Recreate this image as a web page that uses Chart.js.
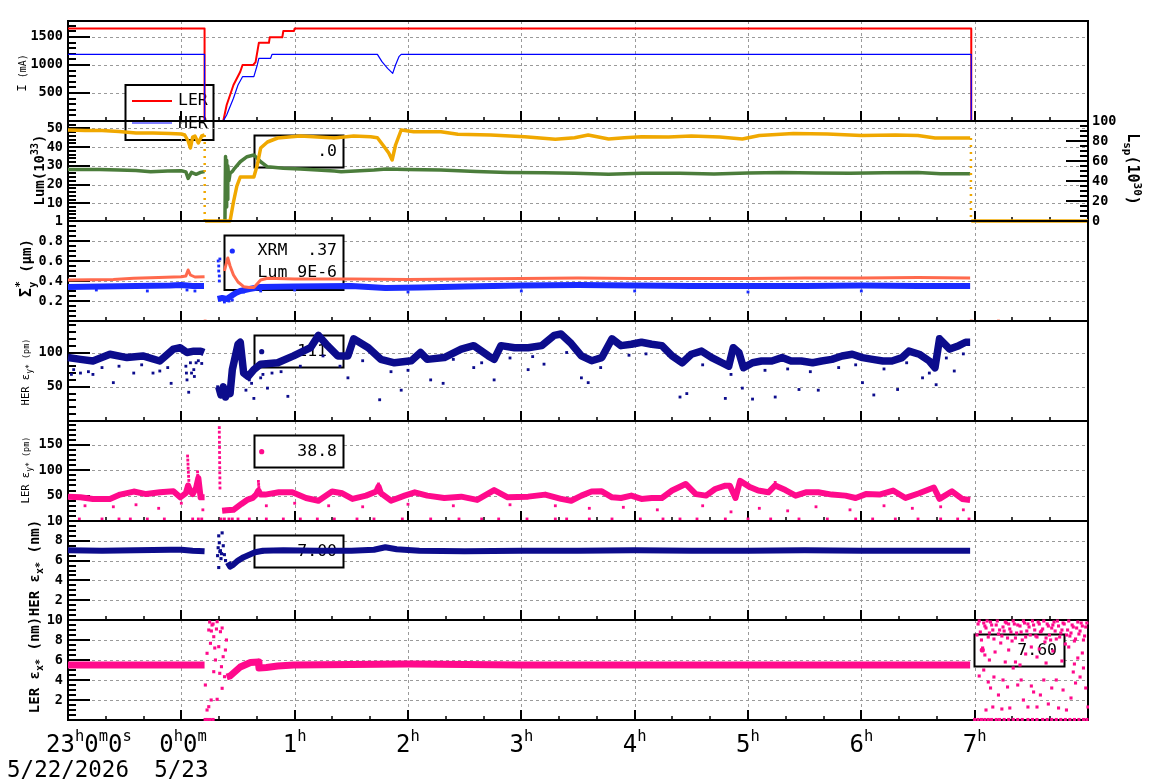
<!DOCTYPE html>
<html><head><meta charset="utf-8">
<script src="https://cdn.jsdelivr.net/npm/chart.js@4.4.0/dist/chart.umd.min.js"></script>
<style>
html,body{margin:0;padding:0;background:#fff;}
#wrap{position:relative;width:1160px;height:782px;overflow:hidden;background:#fff;}
#wrap canvas{position:absolute;left:0;top:0;}
</style></head><body><div id="wrap">
<canvas id="p1" width="1160" height="782"></canvas>
<canvas id="p2" width="1160" height="782"></canvas>
<canvas id="p3" width="1160" height="782"></canvas>
<canvas id="p4" width="1160" height="782"></canvas>
<canvas id="p5" width="1160" height="782"></canvas>
<canvas id="p6" width="1160" height="782"></canvas>
<canvas id="p7" width="1160" height="782"></canvas>
</div>
<script>
// ---------------- DATA (time in hours relative to 0h 5/23) ----------------
const xTickVals = [-1, 0, 1, 2, 3, 4, 5, 6, 7];
const xTickText = ['23h0m0s', '0h0m', '1h', '2h', '3h', '4h', '5h', '6h', '7h'];
const xTickDate = ['5/22/2026', '5/23', '', '', '', '', '', '', ''];

// Panel 1: beam current I (mA)
const lerCurT = [-1, 0.205, 0.205, 0.37, 0.40, 0.46, 0.52, 0.54, 0.634, 0.655, 0.684, 0.773, 0.78, 0.891, 0.90, 0.994, 1.0, 6.97, 6.97, 7.80];
const lerCurV = [1650, 1650, 0, 0, 286, 643, 880, 1000, 1000, 1050, 1395, 1395, 1494, 1494, 1607, 1607, 1650, 1650, 0, 0];
const herCurT = [-1, 0.205, 0.205, 0.37, 0.40, 0.46, 0.50, 0.54, 0.64, 0.67, 0.684, 0.788, 0.80, 1.73, 1.77, 1.82, 1.865, 1.89, 1.92, 1.94, 6.97, 6.97, 7.80];
const herCurV = [1190, 1190, 0, 0, 107, 405, 643, 791, 791, 1000, 1119, 1119, 1190, 1190, 1059, 940, 851, 1000, 1148, 1190, 1190, 0, 0];

// Panel 2: Lum (1e33) green, Lsp (1e30) yellow
const lumT = [-1, -0.85, -0.72, -0.55, -0.4, -0.27, -0.12, 0, 0.04, 0.06, 0.09, 0.13, 0.17, 0.205, 0.3, 0.385, 0.39, 0.395, 0.40, 0.405, 0.41, 0.42, 0.43, 0.45, 0.47, 0.52, 0.58, 0.64, 0.70, 0.76, 0.90, 1.05, 1.35, 1.41, 1.70, 1.81, 1.99, 2.29, 2.6, 2.88, 3.2, 3.47, 3.77, 4.06, 4.4, 4.7, 5.0, 5.3, 5.6, 5.9, 6.2, 6.5, 6.7, 6.96];
const lumV = [28.1, 28.0, 28.1, 27.8, 27.5, 26.9, 27.2, 27.4, 26.8, 23.3, 26.5, 25.5, 26.5, 26.9, null, 1, 35, 8, 33, 12, 30, 22, 26, 27, 28.7, 32.2, 34.9, 35.8, 32.2, 29.5, 28.7, 28.3, 27.2, 26.9, 27.8, 28.3, 28.1, 27.8, 27.0, 26.5, 26.3, 26.0, 25.5, 26.0, 26.0, 25.7, 26.2, 26.5, 26.2, 26.0, 26.3, 26.5, 25.8, 25.8];
const lspT = [-1, -0.85, -0.7, -0.55, -0.4, -0.25, -0.1, 0, 0.03, 0.06, 0.08, 0.10, 0.12, 0.15, 0.18, 0.205, 0.207, 0.21, 0.43, 0.46, 0.49, 0.52, 0.64, 0.67, 0.70, 0.76, 0.85, 1.05, 1.35, 1.52, 1.67, 1.73, 1.79, 1.83, 1.86, 1.89, 1.94, 2.05, 2.29, 2.44, 2.73, 3.03, 3.30, 3.47, 3.59, 3.77, 3.91, 4.06, 4.3, 4.5, 4.75, 4.95, 5.1, 5.4, 5.7, 6.0, 6.3, 6.5, 6.65, 6.96, 6.965, 6.97, 8.0];
const lspV = [91, 90.5, 90.5, 89.5, 88, 88, 87.5, 87, 86, 80, 73, 84, 85, 78, 85, 86, null, 0, 0, 19, 35, 44, 44, 56, 73, 79, 83, 85, 83, 85, 84.3, 83.3, 74.3, 68, 61, 76, 91, 89.3, 89.3, 86.7, 86, 84.3, 81.7, 83.3, 86, 82, 83.3, 84.3, 84, 85, 84, 82, 85.5, 87.5, 87, 85.5, 86, 85.5, 83, 83, null, 0, 0];
const lspDropT = [0.206, 0.206, 3, 6.967, 6.967];
const lspDropV = [86, 0, null, 83, 0];

// Panel 3: Sigma_y* (um)
const xrmT = [-1, -0.7, -0.4, -0.1, 0, 0.1, 0.2, 0.25, 0.32, 0.36, 0.40, 0.44, 0.48, 0.52, 0.6, 0.7, 1.0, 1.5, 1.8, 2.1, 2.5, 3.0, 3.5, 4.0, 4.5, 5.0, 5.5, 6.0, 6.5, 6.96];
const xrmV = [0.34, 0.345, 0.35, 0.355, 0.36, 0.35, 0.35, null, 0.22, 0.23, 0.22, 0.25, 0.28, 0.30, 0.32, 0.34, 0.345, 0.35, 0.33, 0.335, 0.345, 0.355, 0.36, 0.355, 0.35, 0.35, 0.35, 0.355, 0.35, 0.35];
const xrmDotT = [0.325, 0.33, 0.33, 0.335, 0.335, 0.34, -0.75, -0.3, 0.05, 0.12, 0.55, 0.7, 1.0, 2.0, 3.0, 4.0, 5.0, 6.0, 0.38, 0.42, 0.45];
const xrmDotV = [0.6, 0.55, 0.5, 0.45, 0.4, 0.62, 0.31, 0.30, 0.31, 0.30, 0.29, 0.30, 0.31, 0.29, 0.30, 0.30, 0.29, 0.30, 0.19, 0.2, 0.21];
const lumSigT = [-1, -0.6, -0.42, -0.2, 0, 0.04, 0.06, 0.08, 0.12, 0.205, 0.3, 0.38, 0.40, 0.41, 0.43, 0.46, 0.50, 0.55, 0.60, 0.64, 0.70, 0.76, 1.0, 1.5, 2.0, 2.5, 3.0, 3.5, 4.0, 4.5, 5.0, 5.5, 6.0, 6.5, 6.96];
const lumSigV = [0.41, 0.415, 0.427, 0.435, 0.443, 0.45, 0.51, 0.46, 0.44, 0.443, null, 0.50, 0.59, 0.63, 0.55, 0.46, 0.39, 0.343, 0.335, 0.335, 0.41, 0.427, 0.42, 0.42, 0.415, 0.42, 0.425, 0.43, 0.425, 0.425, 0.425, 0.43, 0.43, 0.435, 0.43];
const lumSigZeroT = [0.21, 6.97, 7.21];
const lumSigZeroV = [0, 0, 0];

// Panel 4: HER eps_y* (pm)
const herEyT = [-1.0, -0.89, -0.78, -0.63, -0.48, -0.34, -0.19, -0.07, -0.01, 0.05, 0.11, 0.17, 0.2, 0.26, 0.33, 0.35, 0.37, 0.39, 0.41, 0.43, 0.45, 0.50, 0.52, 0.55, 0.59, 0.64, 0.70, 0.85, 0.99, 1.14, 1.21, 1.29, 1.38, 1.47, 1.52, 1.65, 1.76, 1.88, 2.03, 2.11, 2.17, 2.32, 2.47, 2.58, 2.71, 2.76, 2.82, 2.94, 3.06, 3.18, 3.29, 3.35, 3.44, 3.53, 3.62, 3.71, 3.80, 3.88, 3.97, 4.06, 4.15, 4.24, 4.33, 4.42, 4.50, 4.59, 4.68, 4.77, 4.83, 4.87, 4.92, 4.96, 5.04, 5.12, 5.21, 5.30, 5.38, 5.47, 5.57, 5.65, 5.74, 5.83, 5.92, 6.01, 6.10, 6.19, 6.27, 6.36, 6.42, 6.51, 6.60, 6.65, 6.69, 6.78, 6.86, 6.92, 6.96];
const herEyV = [92.6, 90, 87.6, 97.5, 92.6, 95, 87.6, 105, 107, 100, 102, 102, 100, null, 50, 38, 50, 35, 45, 40, 75, 112, 115, 70, 65, 75, 83, 85, 95, 107, 125, 110, 95, 95, 120, 107, 90, 85, 88, 100, 90, 92.6, 105, 110, 95, 90, 110, 107, 107, 110, 125, 127, 113, 95, 88, 92.6, 120, 110, 112, 115, 112, 110, 95, 85, 97.5, 102, 92.6, 85, 80, 107, 100, 77.7, 85, 87.6, 87.6, 92.6, 87.6, 87.6, 85, 87.6, 90, 95, 97.5, 92.6, 90, 87.6, 87.6, 92.6, 102, 97.5, 87.6, 77.7, 120, 105, 110, 115, 115];
const herEyDotT = [-0.97, -0.89, -0.78, -0.6, -0.42, -0.19, -0.09, 0.04, 0.045, 0.05, 0.065, 0.09, 0.11, 0.115, 0.13, 0.57, 0.64, 0.70, 0.76, 0.94, 1.47, 1.75, 1.94, 2.20, 2.31, 2.58, 2.76, 3.06, 3.2, 3.53, 3.59, 4.40, 4.46, 4.80, 4.95, 5.04, 5.24, 5.45, 5.62, 6.01, 6.11, 6.32, 6.54, 6.66, 6.82, 0.32, 0.33, 0.60, 0.62,
  -0.95, -0.82, -0.7, -0.55, -0.35, -0.25, -0.12, 0.08, 0.15, 0.18, 0.72, 0.8, 0.88, 1.05, 1.25, 1.4, 1.6, 1.85, 2.0, 2.4, 2.65, 2.9, 3.1, 3.4, 3.7, 3.95, 4.1, 4.3, 4.6, 4.85, 5.15, 5.35, 5.55, 5.8, 5.95, 6.2, 6.4, 6.6, 6.75, 6.9];
const herEyDotV = [68, 70, 68, 56, 70, 73, 55, 80, 70, 60, 42, 70, 75, 65, 85, 45, 33, 63, 48, 36, 63, 31, 45, 60, 55, 78, 60, 75, 83, 63, 56, 35, 40, 33, 48, 32, 35, 46, 45, 56, 38, 46, 63, 53, 73, 50, 40, 60, 55,
  75, 72, 78, 80, 82, 70, 78, 85, 88, 84, 68, 70, 72, 80, 95, 80, 88, 72, 74, 90, 85, 92, 94, 100, 78, 96, 98, 96, 82, 68, 74, 76, 72, 78, 82, 76, 85, 70, 92, 98];

// Panel 5: LER eps_y* (pm)
const lerEyT = [-1.0, -0.89, -0.78, -0.63, -0.54, -0.42, -0.31, -0.19, -0.07, -0.01, 0.04, 0.06, 0.08, 0.10, 0.13, 0.15, 0.17, 0.205, 0.3, 0.36, 0.40, 0.46, 0.53, 0.58, 0.63, 0.66, 0.68, 0.70, 0.74, 0.86, 0.98, 1.10, 1.21, 1.33, 1.42, 1.51, 1.63, 1.72, 1.74, 1.76, 1.85, 1.97, 2.06, 2.17, 2.32, 2.47, 2.61, 2.76, 2.88, 3.06, 3.21, 3.35, 3.44, 3.53, 3.62, 3.71, 3.80, 3.88, 3.97, 4.06, 4.15, 4.24, 4.33, 4.45, 4.54, 4.63, 4.71, 4.80, 4.84, 4.89, 4.93, 5.01, 5.09, 5.18, 5.24, 5.33, 5.42, 5.51, 5.62, 5.74, 5.86, 5.95, 6.04, 6.16, 6.28, 6.39, 6.51, 6.64, 6.69, 6.80, 6.89, 6.96];
const lerEyV = [48, 46.7, 43.5, 43.5, 52, 58, 53, 56.5, 58.5, 46.7, 55, 70, 58, 53, 65, 85, 46.7, 46.7, null, 20, 21, 22, 33.6, 41.5, 45.4, 52, 60, 52, 52, 56.5, 56.5, 45.4, 40, 58, 54.6, 43.5, 50, 58, 68, 55, 40, 50, 56.5, 50, 45.4, 48, 41.5, 61, 46.7, 48, 52, 43.5, 40, 50, 58, 58.5, 46.7, 45.4, 50, 43.5, 45.4, 45.4, 60, 73, 53, 50, 63, 69.6, 69.6, 45.4, 79, 67.7, 60, 56.5, 70, 61, 50, 56.5, 56.5, 52, 50, 45.4, 53, 52, 60, 45.4, 54.6, 66, 43.5, 58.5, 43.5, 41.5];
const lerEySpikeT = [0.335, 0.335, 0.336, 0.336, 0.337, 0.337, 0.338, 0.338, 0.339, 0.339, 0.34, 0.34, 0.341, 0.055, 0.057, 0.059, 0.06, 0.062, 0.064, 0.066, 0.143, 0.145, 0.147, 0.149, 0.68, 0.682, 0.684, 1.74, 5.24];
const lerEySpikeV = [184, 175, 165, 155, 145, 135, 125, 115, 105, 95, 85, 75, 65, 128, 120, 112, 104, 96, 88, 80, 97, 90, 83, 76, 78, 72, 66, 73, 76];
const lerEyLowT = [-0.85, -0.6, -0.4, -0.2, 0.0, 0.19, 0.75, 1.0, 1.3, 1.6, 2.0, 2.4, 2.9, 3.3, 3.6, 3.9, 4.2, 4.6, 4.85, 5.1, 5.35, 5.6, 5.9, 6.2, 6.45, 6.7, 6.9];
const lerEyLowV = [30, 28, 32, 25, 35, 22, 30, 35, 30, 28, 33, 30, 32, 30, 25, 27, 22, 30, 18, 25, 20, 28, 22, 30, 25, 28, 22];
const lerEyFloorT = [-0.9, -0.7, -0.55, -0.45, -0.3, -0.15, 0.1, 0.15, 0.18, 0.35, 0.38, 0.42, 0.45, 0.5, 0.6, 0.75, 0.9, 1.05, 1.2, 1.35, 1.55, 1.7, 1.95, 2.2, 2.45, 2.65, 2.8, 3.05, 3.3, 3.4, 3.6, 3.8, 4.05, 4.25, 4.4, 4.55, 4.8, 5.0, 5.2, 5.45, 5.7, 5.95, 6.1, 6.3, 6.5, 6.7, 6.85, 6.95];
const lerEyFloorV = [4, 4, 4, 4, 4, 4, 4, 4, 4, 4, 4, 4, 4, 4, 4, 4, 4, 4, 4, 4, 4, 4, 4, 4, 4, 4, 4, 4, 4, 4, 4, 4, 4, 4, 4, 4, 4, 4, 4, 4, 4, 4, 4, 4, 4, 4, 4, 4];

// Panel 6: HER eps_x* (nm)
const herExT = [-1, -0.7, -0.4, -0.1, 0, 0.1, 0.205, 0.3, 0.41, 0.43, 0.46, 0.50, 0.55, 0.60, 0.65, 0.72, 0.9, 1.2, 1.5, 1.7, 1.8, 1.9, 2.1, 2.5, 3.0, 3.5, 4.0, 4.5, 5.0, 5.5, 6.0, 6.5, 6.96];
const herExV = [7.05, 7.0, 7.05, 7.1, 7.1, 7.0, 6.95, null, 5.8, 5.4, 5.6, 6.0, 6.35, 6.6, 6.85, 7.0, 7.05, 7.0, 7.0, 7.1, 7.35, 7.15, 7.0, 6.95, 7.0, 7.0, 7.05, 7.0, 7.0, 7.05, 7.0, 7.0, 7.0];
const herExDotT = [0.32, 0.325, 0.33, 0.335, 0.34, 0.35, 0.33, 0.36, 0.37, 0.38, 0.39, 0.345, 0.355];
const herExDotV = [6.5, 7.3, 8.5, 7.8, 6.9, 6.2, 5.3, 8.8, 7.5, 6.6, 6.0, 7.0, 6.7];

// Panel 7: LER eps_x* (nm)
const lerExT = [-1, -0.6, -0.3, 0, 0.205, 0.3, 0.40, 0.43, 0.46, 0.52, 0.58, 0.61, 0.68, 0.685, 0.75, 0.85, 0.99, 1.5, 2.0, 2.5, 3.0, 3.5, 4.0, 4.5, 5.0, 5.5, 6.0, 6.5, 6.96];
const lerExV = [5.5, 5.5, 5.5, 5.5, 5.5, null, 4.3, 4.4, 4.7, 5.3, 5.6, 5.75, 5.8, 5.2, 5.25, 5.4, 5.5, 5.55, 5.6, 5.55, 5.5, 5.5, 5.5, 5.5, 5.5, 5.5, 5.5, 5.5, 5.5];
const lerExDotT = [0.212, 0.227, 0.242, 0.257, 0.263, 0.271, 0.286, 0.301, 0.316, 0.330, 0.339, 0.345, 0.360, 0.369, 0.381, 0.389, 0.398, 0.286, 0.242, 0.316, 0.354, 0.227, 0.36, 0.25, 0.28, 0.265, 0.295, 0.31];
const lerExDotV = [3.5, 6.67, 9.0, 7.67, 2.0, 9.5, 8.33, 6.0, 9.83, 7.33, 4.67, 8.83, 3.17, 6.33, 4.33, 7.0, 8.0, 4.83, 1.33, 2.07, 5.33, 1.0, 9.2, 9.8, 9.6, 8.9, 7.2, 9.1];
const lerExNoiseT = [7.03, 7.05, 7.08, 7.10, 7.12, 7.14, 7.16, 7.19, 7.21, 7.23, 7.25, 7.27, 7.29, 7.31, 7.33, 7.35, 7.37, 7.40, 7.42, 7.44, 7.46, 7.48, 7.50, 7.52, 7.54, 7.56, 7.58, 7.60, 7.62, 7.64, 7.66, 7.68, 7.70, 7.72, 7.74, 7.76, 7.78, 7.80, 7.82, 7.84, 7.86, 7.88, 7.90, 7.92, 7.94, 7.96, 7.98, 7.07, 7.18, 7.30, 7.45, 7.57, 7.69, 7.83, 7.95, 7.13, 7.36, 7.55, 7.77, 7.91, 7.04, 7.08, 7.12, 7.14, 7.17, 7.21, 7.25, 7.29, 7.31, 7.34, 7.38, 7.41, 7.43, 7.47, 7.50, 7.52, 7.55, 7.58, 7.61, 7.65, 7.68, 7.72, 7.74, 7.78, 7.81, 7.85, 7.87, 7.89, 7.93, 7.96, 7.98, 8.00, 7.10, 7.16, 7.24, 7.40, 7.63, 7.88, 7.09, 7.27,
  7.02, 7.04, 7.06, 7.09, 7.11, 7.13, 7.15, 7.17, 7.20, 7.22, 7.24, 7.26, 7.28, 7.30, 7.32, 7.34, 7.36, 7.38, 7.41, 7.43, 7.45, 7.47, 7.49, 7.51, 7.53, 7.55, 7.57, 7.59, 7.61, 7.63, 7.65, 7.67, 7.69, 7.71, 7.73, 7.75, 7.77, 7.79, 7.81, 7.83, 7.85, 7.87, 7.89, 7.91, 7.93, 7.95, 7.97, 7.99];
const lerExNoiseV = [9.6, 8.8, 9.7, 9.2, 8.3, 9.8, 9.0, 9.5, 8.6, 7.7, 9.3, 9.8, 8.2, 9.1, 7.9, 9.6, 8.7, 9.4, 8.0, 9.7, 8.9, 9.3, 7.3, 9.5, 8.4, 9.8, 8.8, 9.1, 7.8, 9.6, 8.5, 9.2, 9.8, 8.1, 9.4, 8.7, 9.7, 7.6, 9.0, 8.4, 9.5, 7.9, 9.2, 8.6, 9.7, 8.0, 9.3, 7.2, 6.8, 7.0, 6.6, 7.1, 6.9, 7.3, 6.7, 6.0, 5.8, 6.3, 5.9, 6.2, 4.4, 5.0, 3.8, 3.2, 4.3, 2.5, 4.0, 3.3, 1.2, 5.2, 3.5, 4.0, 2.0, 1.3, 3.4, 2.8, 1.3, 2.5, 4.0, 1.6, 3.2, 4.0, 1.2, 3.0, 1.0, 2.2, 4.8, 3.7, 4.3, 5.2, 3.2, 1.3, 1.0, 1.3, 1.1, 5.5, 5.7, 5.6, 6.5, 5.8,
  8.5, 9.9, 8.0, 9.4, 9.9, 8.7, 9.5, 8.1, 9.9, 9.0, 8.4, 8.9, 9.7, 9.6, 8.8, 9.9, 8.2, 9.5, 8.8, 9.9, 8.3, 9.6, 8.5, 9.9, 9.0, 8.3, 9.6, 8.9, 9.9, 8.2, 9.4, 8.0, 9.5, 8.9, 9.9, 8.3, 9.0, 9.6, 8.5, 9.9, 8.7, 9.3, 8.1, 9.8, 8.9, 9.4, 8.4, 9.7];
const lerExFloorT = [0.21, 0.23, 0.255, 0.28, 7.00, 7.03, 7.06, 7.09, 7.12, 7.15, 7.19, 7.22, 7.26, 7.30, 7.34, 7.38, 7.42, 7.47, 7.51, 7.55, 7.60, 7.64, 7.68, 7.72, 7.76, 7.80, 7.84, 7.88, 7.92, 7.96, 7.99];
const lerExFloorV = [0.05, 0.05, 0.05, 0.05, 0.05, 0.05, 0.05, 0.05, 0.05, 0.05, 0.05, 0.05, 0.05, 0.05, 0.05, 0.05, 0.05, 0.05, 0.05, 0.05, 0.05, 0.05, 0.05, 0.05, 0.05, 0.05, 0.05, 0.05, 0.05, 0.05, 0.05];

// ---------------- STYLE / LAYOUT ----------------
const MONO = '"DejaVu Sans Mono", monospace';
const NAVY = '#0c0c8c', PINK = '#ff0a8c', YEL = '#f0a800', GRN = '#4b7d3b', XRMC = '#1a2cff', SALM = '#ff6a4d';
const gridHours = [0, 1, 2, 3, 4, 5, 6, 7];

const PANEL = {
  p1: {top: 21, bottom: 121, min: 0, max: 1785, labels: [500, 1000, 1500], minor: 100,
       title: {x: 21.5, y: 73, rot: -1, parts: [{t: 'I', s: 12.5}, {t: ' (mA)', s: 10}]},
       legend: {box: [125.5, 85, 88, 55], items: [
         {line: '#ff0000', lw: 2, x1: 132, x2: 172, y: 101, text: 'LER', tx: 178, ty: 101, align: 'left'},
         {line: '#0000ff', lw: 1.2, x1: 132, x2: 172, y: 123, text: 'HER', tx: 178, ty: 124, align: 'left'}]}},
  p2: {top: 121, bottom: 221, min: 0.5, max: 54, labels: [10, 20, 30, 40, 50], minor: 2,
       right: {min: 0, max: 100, labels: [0, 20, 40, 60, 80, 100], minor: 5},
       title: {x: 39, y: 170, rot: -1, parts: [{t: 'Lum(10', s: 14, b: 1}, {t: '33', s: 10, b: 1, dy: 6}, {t: ')', s: 14, b: 1}]},
       rtitle: {x: 1133, y: 169, rot: 1, parts: [{t: 'L', s: 15, b: 1}, {t: 'sp', s: 11, b: 1, dy: -4}, {t: '(10', s: 15, b: 1}, {t: '30', s: 11, b: 1, dy: 6}, {t: ')', s: 15, b: 1}]},
       legend: {box: [254.5, 135.5, 89, 32], items: [{text: '.0', tx: 337, ty: 151.5, align: 'right'}]}},
  p3: {top: 221, bottom: 321, min: 0, max: 1, labels: [0.2, 0.4, 0.6, 0.8, 1], grid: [0.2, 0.4, 0.6, 0.8], minor: 0.05,
       title: {x: 26, y: 268, rot: -1, parts: [{t: 'Σ', s: 15, b: 1}, {t: 'y', s: 10, b: 1, dy: -5, adv: false}, {t: '*', s: 11, b: 1, dy: 8}, {t: ' (μm)', s: 14, b: 1}]},
       legend: {box: [224.5, 235.5, 119, 54.5], items: [
         {dot: XRMC, dx: 232.3, dy: 251},
         {text: 'XRM  .37', tx: 337, ty: 251, align: 'right'},
         {text: 'Lum 9E-6', tx: 337, ty: 273, align: 'right'}]}},
  p4: {top: 321, bottom: 421, min: 0, max: 146, labels: [50, 100], minor: 10,
       title: {x: 25, y: 372, rot: -1, parts: [{t: 'HER ε', s: 10.5}, {t: 'y*', s: 8, dy: -3}, {t: ' (pm)', s: 8.5}]},
       legend: {box: [254.5, 335.5, 89, 32], items: [{dot: NAVY, dx: 261.7, dy: 351.7}, {text: '111', tx: 327, ty: 351.5, align: 'right'}]}},
  p5: {top: 421, bottom: 521, min: 0, max: 197, labels: [50, 100, 150], minor: 10,
       title: {x: 25, y: 470, rot: -1, parts: [{t: 'LER ε', s: 10.5}, {t: 'y*', s: 8, dy: -3}, {t: ' (pm)', s: 8.5}]},
       legend: {box: [254.5, 435.5, 89, 32], items: [{dot: PINK, dx: 261.7, dy: 451.7}, {text: '38.8', tx: 337, ty: 451.5, align: 'right'}]}},
  p6: {top: 521, bottom: 620, min: 0, max: 10, labels: [2, 4, 6, 8, 10], grid: [2, 4, 6, 8], minor: 0.5,
       title: {x: 34, y: 568, rot: -1, parts: [{t: 'HER ε', s: 14, b: 1}, {t: 'x*', s: 10, b: 1, dy: -4}, {t: ' (nm)', s: 14, b: 1}]},
       legend: {box: [254.5, 535.5, 89, 32], items: [{dot: NAVY, dx: 261.7, dy: 551.5}, {text: '7.00', tx: 337, ty: 551.5, align: 'right'}]}},
  p7: {top: 620, bottom: 720, min: 0, max: 10, labels: [2, 4, 6, 8, 10], grid: [2, 4, 6, 8], minor: 0.5, xlabels: true,
       title: {x: 34, y: 665, rot: -1, parts: [{t: 'LER ε', s: 14, b: 1}, {t: 'x*', s: 10, b: 1, dy: -4}, {t: ' (nm)', s: 14, b: 1}]},
       legend: {box: [974.5, 634.5, 90, 32], items: [{dot: PINK, dx: 982.3, dy: 650}, {text: '7.60', tx: 1057, ty: 650.5, align: 'right'}]}}
};

function fnt(p) { return (p.b ? 'bold ' : '') + p.s + 'px ' + MONO; }
function drawRich(ctx, T) {
  ctx.save();
  ctx.translate(T.x, T.y);
  ctx.rotate(T.rot * Math.PI / 2);
  let total = 0;
  const ws = T.parts.map(p => { ctx.font = fnt(p); const w = ctx.measureText(p.t).width; if (p.adv !== false) total += w; return w; });
  const main = Math.max(...T.parts.map(p => p.s));
  let x = -total / 2;
  ctx.fillStyle = '#000';
  ctx.textBaseline = 'alphabetic';
  ctx.textAlign = 'left';
  T.parts.forEach((p, i) => {
    ctx.font = fnt(p);
    ctx.fillText(p.t, x, main * 0.36 - (p.dy || 0));
    if (p.adv !== false) x += ws[i];
  });
  ctx.restore();
}

function isMajor(v, list) { return list.some(l => Math.abs(l - v) < 1e-6); }

const decor = {
  id: 'decor',
  beforeDatasetsDraw(chart) {
    const o = PANEL[chart.canvas.id];
    const {ctx, chartArea: a} = chart;
    const xs = chart.scales.x, ys = chart.scales.y;
    ctx.save();
    // dashed grid
    ctx.strokeStyle = '#9a9a9a'; ctx.lineWidth = 1; ctx.setLineDash([3, 3]);
    ctx.beginPath();
    gridHours.forEach(h => { const x = Math.round(xs.getPixelForValue(h)) + 0.5; ctx.moveTo(x, a.top); ctx.lineTo(x, a.bottom); });
    (o.grid || o.labels).forEach(v => { const y = Math.round(ys.getPixelForValue(v)) + 0.5; ctx.moveTo(a.left, y); ctx.lineTo(a.right, y); });
    ctx.stroke();
    ctx.setLineDash([]);
    // legend box
    const L = o.legend;
    ctx.fillStyle = '#fff';
    ctx.fillRect(L.box[0], L.box[1], L.box[2], L.box[3]);
    ctx.strokeStyle = '#000'; ctx.lineWidth = 2;
    ctx.strokeRect(L.box[0], L.box[1], L.box[2], L.box[3]);
    ctx.font = '16.5px ' + MONO; ctx.textBaseline = 'middle';
    L.items.forEach(it => {
      if (it.line) { ctx.strokeStyle = it.line; ctx.lineWidth = it.lw; ctx.beginPath(); ctx.moveTo(it.x1, it.y); ctx.lineTo(it.x2, it.y); ctx.stroke(); }
      if (it.dot) { ctx.fillStyle = it.dot; ctx.beginPath(); ctx.arc(it.dx, it.dy, 2.6, 0, Math.PI * 2); ctx.fill(); }
      if (it.text) { ctx.fillStyle = '#000'; ctx.textAlign = it.align; ctx.fillText(it.text, it.tx, it.ty); }
    });
    // frame
    ctx.strokeStyle = '#000'; ctx.lineWidth = 2;
    ctx.strokeRect(a.left, a.top, a.right - a.left, a.bottom - a.top);
    // left ticks
    ctx.beginPath();
    for (let k = Math.ceil(o.min / o.minor); k * o.minor <= o.max + 1e-9; k++) {
      const v = k * o.minor;
      const y = Math.round(ys.getPixelForValue(v));
      const len = isMajor(v, o.labels) ? 22 : 8;
      ctx.moveTo(a.left, y); ctx.lineTo(a.left + len, y);
    }
    if (o.right) {
      const y2 = chart.scales.y2, R = o.right;
      for (let k = Math.ceil(R.min / R.minor); k * R.minor <= R.max + 1e-9; k++) {
        const v = k * R.minor;
        const y = Math.round(y2.getPixelForValue(v));
        const len = isMajor(v, R.labels) ? 22 : 8;
        ctx.moveTo(a.right, y); ctx.lineTo(a.right - len, y);
      }
    }
    ctx.stroke();
    // bottom x ticks
    ctx.beginPath(); ctx.lineWidth = 2;
    gridHours.forEach(h => { const x = Math.round(xs.getPixelForValue(h)); ctx.moveTo(x, a.bottom); ctx.lineTo(x, a.bottom - 10); });
    ctx.stroke();
    ctx.beginPath(); ctx.lineWidth = 1.5;
    for (let k = 1; k < 27; k++) {
      if (k % 3 === 0) continue;
      const x = Math.round(xs.getPixelForValue(-1 + k / 3));
      ctx.moveTo(x, a.bottom); ctx.lineTo(x, a.bottom - 4);
    }
    ctx.stroke();
    ctx.restore();
  },
  afterDraw(chart) {
    const o = PANEL[chart.canvas.id];
    const ctx = chart.ctx;
    drawRich(ctx, o.title);
    if (o.rtitle) drawRich(ctx, o.rtitle);
    if (o.xlabels) {
      const xs = chart.scales.x;
      ctx.save();
      ctx.fillStyle = '#000';
      ctx.textBaseline = 'alphabetic';
      ctx.textAlign = 'left';
      const mainF = '24px ' + MONO, supF = '15.5px ' + MONO;
      xTickVals.forEach((v, i) => {
        const px = xs.getPixelForValue(v);
        const segs = xTickText[i].match(/[0-9]+|[a-z]/g).map(s => ({t: s, sup: /[a-z]/.test(s)}));
        let total = 0;
        segs.forEach(s => { ctx.font = s.sup ? supF : mainF; s.w = ctx.measureText(s.t).width; total += s.w; });
        let x = px - Math.min(total / 2, 22);
        segs.forEach(s => {
          ctx.font = s.sup ? supF : mainF;
          ctx.fillText(s.t, x, s.sup ? 741 : 752);
          x += s.w;
        });
        if (xTickDate[i]) {
          ctx.font = '22.5px ' + MONO;
          const w = ctx.measureText(xTickDate[i]).width;
          ctx.fillText(xTickDate[i], px - w / 2, 777);
        }
      });
      ctx.restore();
    }
  }
};

// ---------------- CHART BUILDING ----------------
const P = (t, v) => t.map((x, i) => ({x: x, y: v[i]}));
function line(data, color, w, extra) {
  return Object.assign({data, borderColor: color, backgroundColor: color, borderWidth: w, pointRadius: 0,
    fill: false, tension: 0, borderJoinStyle: 'round', spanGaps: false, clip: 2}, extra || {});
}
function dots(data, color, r) {
  return {data, showLine: false, pointRadius: r || 1.6, pointStyle: 'rect', pointBackgroundColor: color,
    pointBorderColor: color, pointBorderWidth: 0, borderColor: color, backgroundColor: color, clip: 1};
}
function axisCfg(pos, min, max, labels) {
  return {type: 'linear', position: pos, min: min, max: max,
    afterFit: s => { s.width = pos === 'left' ? 68 : 72; },
    afterBuildTicks: s => { s.ticks = labels.map(v => ({value: v})); },
    ticks: {color: '#000', padding: pos === 'left' ? 5 : 4, autoSkip: false,
      font: {family: 'DejaVu Sans Mono', size: 13.5, weight: 'bold'}, callback: v => String(v)},
    grid: {display: false, drawTicks: false}, border: {display: false}};
}
function build(id, datasets) {
  const o = PANEL[id];
  const scales = {x: {type: 'linear', min: -1, max: 8, display: false}, y: axisCfg('left', o.min, o.max, o.labels)};
  if (o.right) scales.y2 = axisCfg('right', o.right.min, o.right.max, o.right.labels);
  return new Chart(document.getElementById(id), {
    type: 'line',
    data: {datasets},
    options: {
      responsive: false, maintainAspectRatio: false, animation: false, devicePixelRatio: 1, events: [],
      layout: {padding: {left: 0, right: o.right ? 0 : 72, top: o.top, bottom: 782 - o.bottom}},
      plugins: {legend: {display: false}, tooltip: {enabled: false}},
      scales
    },
    plugins: [decor]
  });
}

build('p1', [
  line(P(herCurT, herCurV), '#0000ff', 1.2, {label: 'HER'}),
  line(P(lerCurT, lerCurV), '#ff0000', 2, {label: 'LER'})
]);
build('p2', [
  line(P(lspT, lspV), YEL, 3.5, {label: 'Lsp', yAxisID: 'y2'}),
  line(P(lspDropT, lspDropV), YEL, 2.5, {label: 'Lsp drop', yAxisID: 'y2', borderDash: [2, 5]}),
  line(P(lumT, lumV), GRN, 3.5, {label: 'Lum'})
]);
build('p3', [
  line(P(lumSigT, lumSigV), SALM, 3, {label: 'Lum'}),
  dots(P(lumSigZeroT, lumSigZeroV), SALM, 2),
  line(P(xrmT, xrmV), XRMC, 6, {label: 'XRM'}),
  dots(P(xrmDotT, xrmDotV), XRMC, 2)
]);
build('p4', [
  line(P(herEyT, herEyV), NAVY, 7.5, {label: 'HER eps_y'}),
  dots(P(herEyDotT, herEyDotV), NAVY, 2)
]);
build('p5', [
  line(P(lerEyT, lerEyV), PINK, 6, {label: 'LER eps_y'}),
  dots(P(lerEySpikeT, lerEySpikeV), PINK, 2),
  dots(P(lerEyLowT, lerEyLowV), PINK, 2),
  dots(P(lerEyFloorT, lerEyFloorV), PINK, 2)
]);
build('p6', [
  line(P(herExT, herExV), NAVY, 6, {label: 'HER eps_x'}),
  dots(P(herExDotT, herExDotV), NAVY, 2.2)
]);
build('p7', [
  line(P(lerExT, lerExV), PINK, 7, {label: 'LER eps_x'}),
  dots(P(lerExDotT, lerExDotV), PINK, 2.2),
  dots(P(lerExNoiseT, lerExNoiseV), PINK, 2.2),
  dots(P(lerExFloorT, lerExFloorV), PINK, 2.2)
]);
</script>
</body></html>
